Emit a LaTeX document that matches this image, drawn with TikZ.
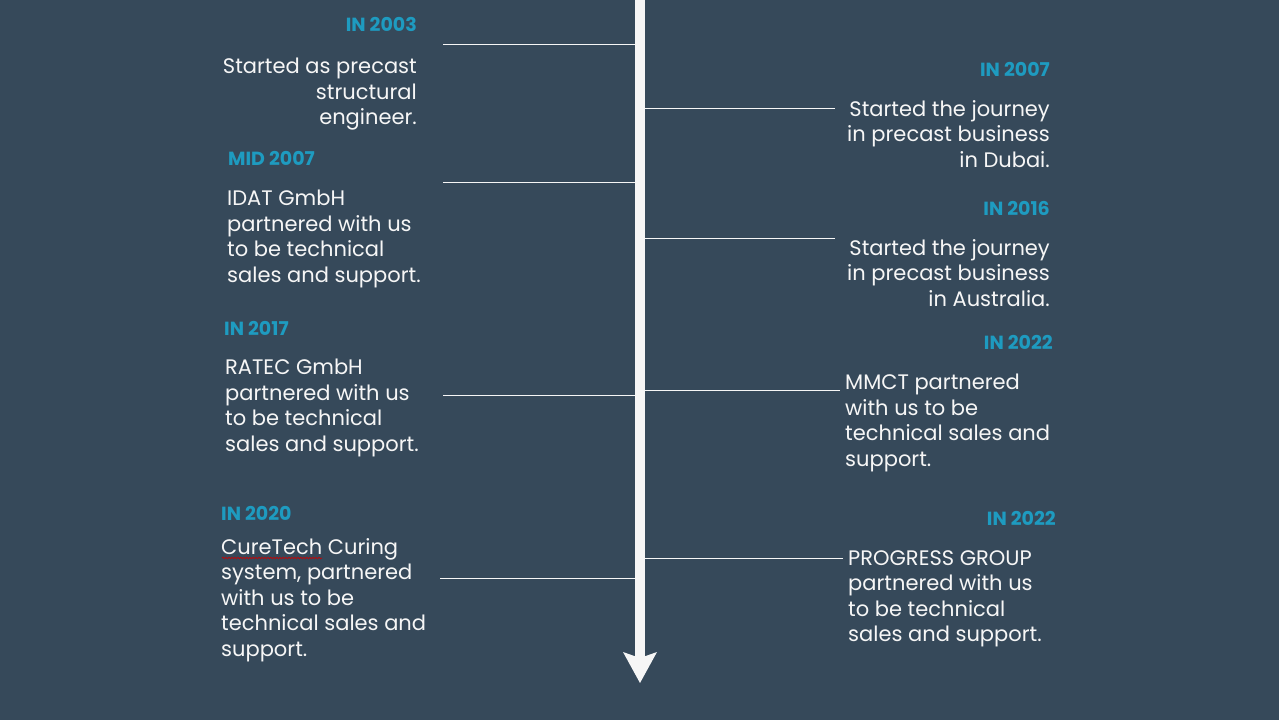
\documentclass[tikz,border=0pt]{standalone}
\usepackage{fontspec}
\setmainfont{Poppins}
\usepackage{tikz}
\usetikzlibrary{
  arrows.meta,
  decorations.pathmorphing
}
\definecolor{slate}{RGB}{54,73,90}
\definecolor{yearblue}{RGB}{30,155,192}
\definecolor{paper}{RGB}{246,246,246}

\begin{document}
\begin{tikzpicture}[line cap=round,line join=round,x=1pt,y=-1pt,
  year/.style={anchor=north east,inner sep=0pt,text=yearblue,font=\fontsize{19}{21}\selectfont\bfseries},
  blurb/.style={inner sep=0pt,text=paper,font=\fontsize{21}{25.5}\selectfont},
  tick/.style={draw=paper,line width=1pt,line cap=butt}]
\fill[slate] (0,0) rectangle (1279,720);
\useasboundingbox (0,0) rectangle (1279,720);
\node[year] (y1) at (417,17) {IN 2003};
\node[blurb,anchor=north east,align=right] (t1) at (417,58) {Started as precast\\structural\\engineer.};
\node[year,anchor=north west] (y2) at (228,151) {MID 2007};
\node[blurb,anchor=north west,align=left] (t2) at (227,190) {IDAT GmbH\\partnered with us\\to be technical\\sales and support.};
\node[year,anchor=north west] (y3) at (224,321) {IN 2017};
\node[blurb,anchor=north west,align=left] (t3) at (225,359) {RATEC GmbH\\partnered with us\\to be technical\\sales and support.};
\node[year,anchor=north west] (y4) at (221,506) {IN 2020};
\node[blurb,anchor=north west,align=left] (t4) at (221,538) {CureTech Curing\\system, partnered\\with us to be\\technical sales and\\support.};
\node[year] (y5) at (1050,62) {IN 2007};
\node[blurb,anchor=north east,align=right] (t5) at (1050,100) {Started the journey\\in precast business\\in Dubai.};
\node[year] (y6) at (1050,201) {IN 2016};
\node[blurb,anchor=north east,align=right] (t6) at (1050,239) {Started the journey\\in precast business\\in Australia.};
\node[year] (y7) at (1053,335) {IN 2022};
\node[blurb,anchor=north west,align=left] (t7) at (845,374) {MMCT partnered\\with us to be\\technical sales and\\support.};
\node[year] (y8) at (1056,511) {IN 2022};
\node[blurb,anchor=north west,align=left] (t8) at (848,550) {PROGRESS GROUP\\partnered with us\\to be technical\\sales and support.};
\draw[red!80!black,line width=0.6pt,decorate,decoration={snake,amplitude=0.8pt,segment length=3pt}] (222,558) -- (322,558);
\coordinate (e1) at (443,44);
\coordinate (a1) at (640,44);
\coordinate (e2) at (443,182);
\coordinate (a2) at (640,182);
\coordinate (e3) at (443,395);
\coordinate (a3) at (640,395);
\coordinate (e4) at (440,578);
\coordinate (a4) at (640,578);
\coordinate (e5) at (835,108);
\coordinate (a5) at (640,108);
\coordinate (e6) at (835,238);
\coordinate (a6) at (640,238);
\coordinate (e7) at (840,390);
\coordinate (a7) at (640,390);
\coordinate (e8) at (843,558);
\coordinate (a8) at (640,558);
\draw[tick] (e1) -- (a1);
\draw[tick] (e2) -- (a2);
\draw[tick] (e3) -- (a3);
\draw[tick] (e4) -- (a4);
\draw[tick] (e5) -- (a5);
\draw[tick] (e6) -- (a6);
\draw[tick] (e7) -- (a7);
\draw[tick] (e8) -- (a8);
\coordinate (top) at (640,0);
\coordinate (tip) at (640,683);
\draw[paper,line width=10pt,line cap=butt,-{Stealth[length=31pt,width=34pt,inset=6pt,line width=0pt]}] (top) -- (tip);
\end{tikzpicture}
\end{document}
